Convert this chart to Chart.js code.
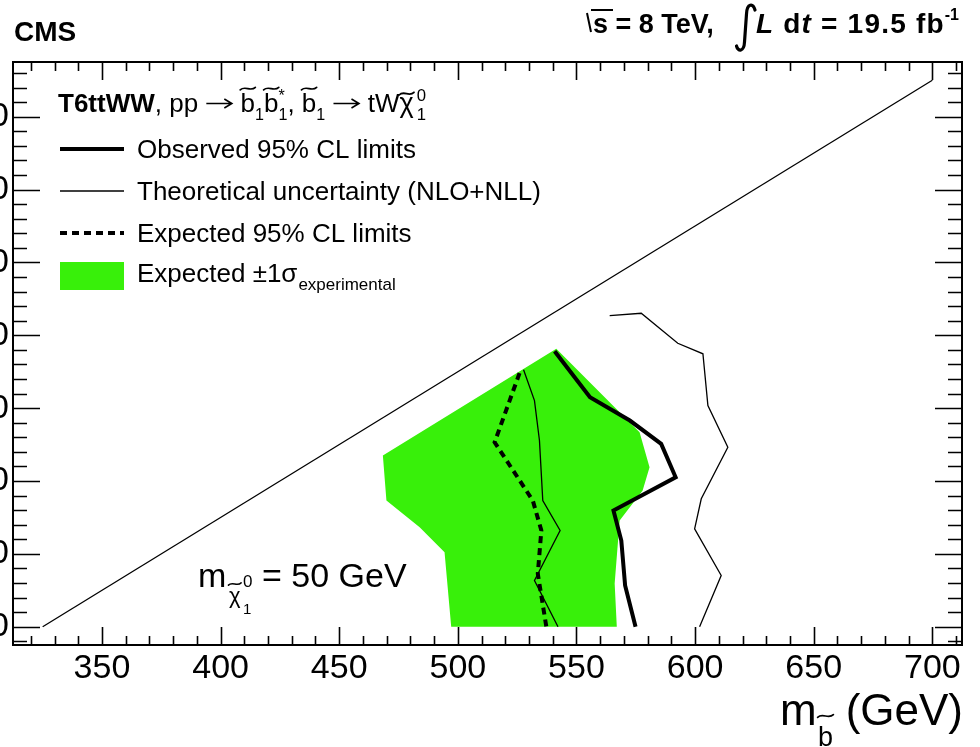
<!DOCTYPE html>
<html>
<head>
<meta charset="utf-8">
<script src="https://cdn.jsdelivr.net/npm/chart.js@4/dist/chart.umd.min.js"></script>
<style>
  html, body { margin: 0; padding: 0; background: #fff; overflow: hidden; }
  #wrap { width: 980px; height: 747px; position: relative; }
  canvas { display: block; }
</style>
</head>
<body>
<div id="wrap"><canvas id="c" width="980" height="747"></canvas></div>
<script>
// Axis ticks (GeV)
const xTickValues = [350, 400, 450, 500, 550, 600, 650, 700];
const yTickValues = [150, 200, 250, 300, 350, 400, 450, 500];

// Kinematic boundary
const kinX = [325, 700];
const kinY = [150, 525];

// Observed 95% CL limit contour
const obsX = [540.8, 555.7, 572.5, 585.7, 591.8, 565.6, 568.9, 570.5, 574.9];
const obsY = [339.0, 307.5, 291.5, 275.5, 252.6, 229.8, 209.2, 178.3, 150.0];

// Expected 95% CL limit contour
const expX = [526.0, 515.5, 531.6, 535.2, 533.7, 537.3];
const expY = [324.0, 276.6, 236.6, 216.1, 186.4, 150.0];

// Observed limit with theory cross section varied down / up
const thDownX = [527.7, 532.3, 534.4, 535.8, 543.1, 532.3, 542.2];
const thDownY = [326.3, 305.2, 277.8, 236.6, 216.1, 181.8, 150.0];
const thUpX = [564.0, 577.3, 592.7, 603.3, 605.4, 613.8, 602.6, 599.8, 611.0, 601.9];
const thUpY = [363.5, 365.1, 344.5, 337.3, 301.8, 273.2, 237.8, 217.2, 185.2, 150.0];

// Expected +-1 sigma (experimental) band outline
const bandX = [541.5, 576.6, 580.8, 577.9, 568.2, 566.1, 567.0, 497.2, 494.4, 483.9, 469.9, 468.4];
const bandY = [340.7, 283.5, 259.5, 243.5, 222.9, 179.7, 150.0, 150.0, 201.2, 218.3, 236.6, 267.5];

const FAMILY = "'Liberation Sans', Arial, Helvetica, sans-serif";
const GREEN = 'rgb(56, 240, 10)';
const pts = (xs, ys) => xs.map((x, i) => ({ x: x, y: ys[i] }));
const f = (size, weight, style) => `${style || 'normal'} ${weight || 'normal'} ${size}px ${FAMILY}`;

function put(ctx, s, x, y, font, align) {
  ctx.font = font;
  ctx.textAlign = align || 'left';
  ctx.fillText(s, x, y);
  return x + ctx.measureText(s).width;
}

function tilde(ctx, cx, cy, w, h, lw) {
  ctx.save();
  ctx.strokeStyle = '#000';
  ctx.lineWidth = lw;
  ctx.lineCap = 'round';
  ctx.beginPath();
  ctx.moveTo(cx - w / 2, cy + h / 2);
  ctx.bezierCurveTo(cx - w / 6, cy - h * 1.4, cx + w / 6, cy + h * 1.4, cx + w / 2, cy - h / 2);
  ctx.stroke();
  ctx.restore();
}

// right arrow drawn as a path, returns the advance
function arrow(ctx, x, y, w) {
  const ay = y - 8.5;
  ctx.save();
  ctx.strokeStyle = '#000';
  ctx.lineWidth = 1.6;
  ctx.lineCap = 'butt';
  ctx.beginPath();
  ctx.moveTo(x + 1, ay); ctx.lineTo(x + w - 2, ay);
  ctx.moveTo(x + w - 9, ay - 4.5); ctx.lineTo(x + w - 1.5, ay); ctx.lineTo(x + w - 9, ay + 4.5);
  ctx.stroke();
  ctx.restore();
  return x + w;
}

// letter with tilde and optional sub/superscript indices
function tildeSym(ctx, ch, x, y, size, tildeY, sub, sup, gap) {
  ctx.font = f(size);
  const w = ctx.measureText(ch).width;
  ctx.textAlign = 'left';
  ctx.fillText(ch, x, y);
  tilde(ctx, x + w * 0.5, y - size * tildeY, w * 1.05, size * 0.1, size * 0.065);
  let adv = 0;
  const s = size * 0.62;
  const ix = x + w + (gap || 0);
  if (sub) { ctx.font = f(s); ctx.fillText(sub, ix, y + size * 0.3); adv = Math.max(adv, ctx.measureText(sub).width); }
  if (sup) { ctx.font = f(s); ctx.fillText(sup, ix, y - size * 0.42); adv = Math.max(adv, ctx.measureText(sup).width); }
  return ix + adv;
}

const framePlugin = {
  id: 'frame',
  afterDatasetsDraw(chart) {
    const { ctx, chartArea: a, scales: { x: sx, y: sy } } = chart;
    ctx.save();
    ctx.strokeStyle = '#000';
    ctx.lineWidth = 1.6;
    ctx.beginPath();
    for (let v = 320; v <= 710; v += 10) {
      const p = Math.round(sx.getPixelForValue(v)) + 0.5;
      const len = (v % 50 === 0) ? 18 : 9;
      ctx.moveTo(p, a.bottom); ctx.lineTo(p, a.bottom - len);
      ctx.moveTo(p, a.top); ctx.lineTo(p, a.top + len);
    }
    for (let v = 140; v <= 530; v += 10) {
      const p = Math.round(sy.getPixelForValue(v)) + 0.5;
      const len = (v % 50 === 0) ? 27 : 14;
      ctx.moveTo(a.left, p); ctx.lineTo(a.left + len, p);
      ctx.moveTo(a.right, p); ctx.lineTo(a.right - len, p);
    }
    ctx.stroke();
    ctx.lineWidth = 2;
    ctx.strokeRect(a.left, a.top, a.right - a.left, a.bottom - a.top);
    ctx.restore();
  }
};

const textPlugin = {
  id: 'texts',
  afterDraw(chart) {
    const ctx = chart.ctx;
    const ds = chart.data.datasets;
    ctx.save();
    ctx.fillStyle = '#000';
    ctx.textBaseline = 'alphabetic';

    // CMS label
    put(ctx, 'CMS', 14, 41, f(28, 'bold'));

    // energy and luminosity
    ctx.strokeStyle = '#000';
    ctx.lineWidth = 2;
    ctx.beginPath();
    ctx.moveTo(587, 13); ctx.lineTo(591, 32);
    ctx.moveTo(591, 10); ctx.lineTo(613, 10);
    ctx.stroke();
    let x = put(ctx, 's = 8 TeV,', 593, 33, f(27, 'bold'));
    ctx.lineWidth = 3.2;
    ctx.lineCap = 'round';
    ctx.beginPath();
    ctx.moveTo(755, 10);
    ctx.bezierCurveTo(753, 3, 747, 3, 746.5, 14);
    ctx.lineTo(744.5, 42);
    ctx.bezierCurveTo(744, 52, 738, 52, 736.5, 46);
    ctx.stroke();
    ctx.letterSpacing = '1.2px';
    x = put(ctx, 'L', 756, 33, f(28, 'bold', 'italic'));
    x = put(ctx, ' d', x, 33, f(28, 'bold'));
    x = put(ctx, 't', x, 33, f(28, 'bold', 'italic'));
    x = put(ctx, ' = 19.5 fb', x, 33, f(28, 'bold'));
    ctx.letterSpacing = '0px';
    put(ctx, '-1', x, 20, f(16, 'bold'));

    // legend header
    const hs = 26, hy = 112;
    x = put(ctx, 'T6ttWW', 58, hy, f(hs, 'bold'));
    x = put(ctx, ', pp ', x, hy, f(hs));
    x = arrow(ctx, x, hy, 28);
    x = put(ctx, ' ', x, hy, f(hs));
    x = tildeSym(ctx, 'b', x, hy, hs, 0.9, '1');
    x = tildeSym(ctx, 'b', x, hy, hs, 0.9, '1', '*');
    x = put(ctx, ', ', x, hy, f(hs));
    x = tildeSym(ctx, 'b', x, hy, hs, 0.9, '1');
    x = put(ctx, ' ', x, hy, f(hs));
    x = arrow(ctx, x, hy, 28);
    x = put(ctx, ' tW', x, hy, f(hs));
    x = tildeSym(ctx, '\u03c7', x, hy, 27, 0.68, '1', '0', 3);

    // legend entries
    const lx0 = 60, lx1 = 124, tx = 137;
    ctx.lineCap = 'butt';
    ctx.setLineDash([]);
    ctx.lineWidth = ds[0].borderWidth;
    ctx.beginPath(); ctx.moveTo(lx0, 149); ctx.lineTo(lx1, 149); ctx.stroke();
    put(ctx, ds[0].label, tx, 158, f(26));

    ctx.lineWidth = ds[2].borderWidth;
    ctx.beginPath(); ctx.moveTo(lx0, 191); ctx.lineTo(lx1, 191); ctx.stroke();
    put(ctx, ds[2].label, tx, 200, f(26));

    ctx.lineWidth = ds[1].borderWidth;
    ctx.setLineDash(ds[1].borderDash);
    ctx.beginPath(); ctx.moveTo(lx0, 233); ctx.lineTo(lx1, 233); ctx.stroke();
    ctx.setLineDash([]);
    put(ctx, ds[1].label, tx, 242, f(26));

    ctx.fillStyle = ds[5].backgroundColor;
    ctx.fillRect(lx0, 262, lx1 - lx0, 28);
    ctx.fillStyle = '#000';
    x = put(ctx, 'Expected \u00b11\u03c3', tx, 282, f(26));
    put(ctx, 'experimental', x + 1, 290, f(17));

    // neutralino mass label
    put(ctx, 'm', 198, 587, f(34));
    ctx.font = f(22);
    const cw = ctx.measureText('\u03c7').width;
    put(ctx, '\u03c7', 229, 603, f(22));
    tilde(ctx, 229 + cw / 2, 584, cw * 1.1, 2.2, 1.5);
    put(ctx, '0', 243, 587, f(17));
    put(ctx, '1', 243, 614, f(15));
    put(ctx, '= 50 GeV', 262, 587, f(34));

    // x axis title
    put(ctx, 'm', 780, 725, f(44));
    ctx.font = f(27);
    const bw = ctx.measureText('b').width;
    put(ctx, 'b', 818, 746, f(27));
    tilde(ctx, 818 + bw / 2, 716, bw * 1.05, 2.6, 1.7);
    put(ctx, '(GeV)', 963, 725, f(44), 'right');

    ctx.restore();
  }
};

const lineDs = (label, data, width, extra) => Object.assign({
  label: label, data: data, showLine: true, borderColor: '#000', borderWidth: width,
  pointRadius: 0, fill: false, tension: 0
}, extra || {});

new Chart(document.getElementById('c'), {
  type: 'scatter',
  data: {
    datasets: [
      lineDs('Observed 95% CL limits', pts(obsX, obsY), 4),
      lineDs('Expected 95% CL limits', pts(expX, expY), 4, { borderDash: [7, 5] }),
      lineDs('Theoretical uncertainty (NLO+NLL)', pts(thDownX, thDownY), 1.3),
      lineDs('Theoretical uncertainty up', pts(thUpX, thUpY), 1.3),
      lineDs('Kinematic limit', pts(kinX, kinY), 1.3),
      lineDs('Expected \u00b11\u03c3 experimental', pts(bandX, bandY), 1, {
        borderColor: 'rgba(0,0,0,0)', backgroundColor: GREEN, fill: 'shape'
      })
    ]
  },
  options: {
    responsive: false,
    maintainAspectRatio: false,
    devicePixelRatio: 1,
    animation: false,
    events: [],
    layout: { padding: { top: 62, right: 18, left: 0, bottom: 0 } },
    plugins: { legend: { display: false }, tooltip: { enabled: false } },
    scales: {
      x: {
        type: 'linear', position: 'bottom', min: 312.5, max: 712.5,
        grid: { display: false, drawTicks: false },
        border: { display: false },
        afterBuildTicks: s => { s.ticks = xTickValues.map(v => ({ value: v })); },
        afterFit: s => { s.height = 102; s.paddingLeft = 0; s.paddingRight = 0; },
        ticks: { font: { family: FAMILY, size: 34 }, color: '#000', padding: 3, maxRotation: 0, autoSkip: false }
      },
      y: {
        type: 'linear', position: 'left', min: 137.5, max: 537.5,
        grid: { display: false, drawTicks: false },
        border: { display: false },
        afterBuildTicks: s => { s.ticks = yTickValues.map(v => ({ value: v })); },
        afterFit: s => { s.width = 13; s.paddingTop = 0; s.paddingBottom = 0; },
        ticks: { font: { family: FAMILY, size: 34 }, color: '#000', padding: 4, autoSkip: false }
      }
    }
  },
  plugins: [framePlugin, textPlugin]
});
</script>
</body>
</html>
